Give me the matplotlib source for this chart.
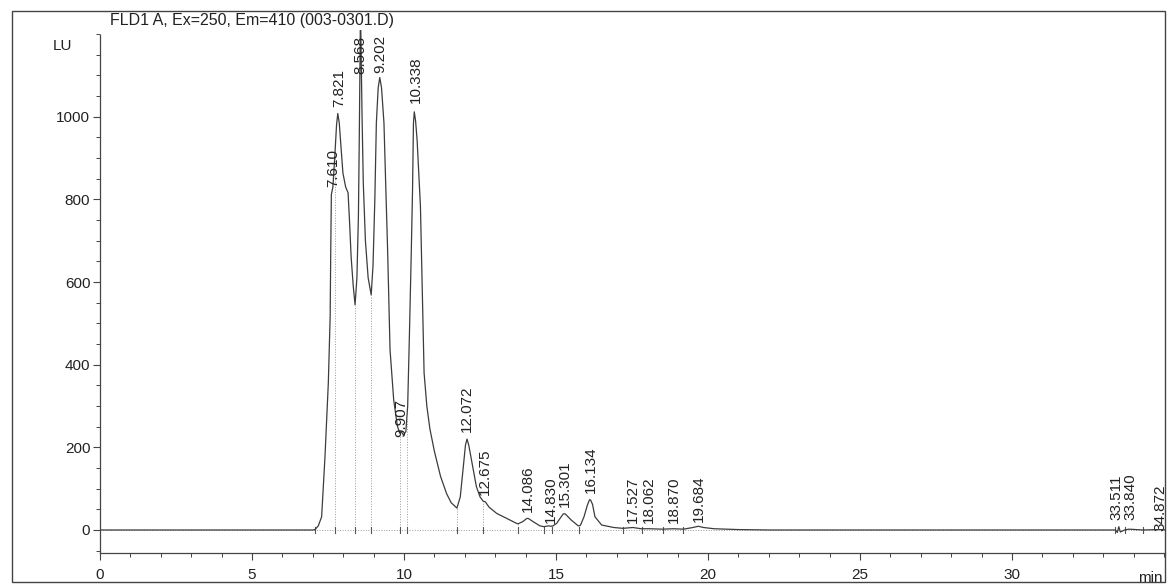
import numpy as np
import matplotlib
matplotlib.use("Agg")
import matplotlib.pyplot as plt
from matplotlib.patches import Rectangle
from matplotlib.ticker import MultipleLocator

plt.rcParams["font.family"] = ["Liberation Sans", "DejaVu Sans"]

# ── data ─────────────────────────────────────────────────────
trace_time = [0.00, 7.00, 7.07, 7.18, 7.29, 7.40, 7.51, 7.57, 7.59, 7.61,
              7.66, 7.72, 7.78, 7.821, 7.87, 7.91, 7.99, 8.08, 8.16, 8.21,
              8.26, 8.33, 8.39, 8.45, 8.50, 8.53, 8.568, 8.62, 8.66, 8.73,
              8.82, 8.92, 8.98, 9.04, 9.09, 9.15, 9.202, 9.26, 9.34, 9.40,
              9.46, 9.54, 9.66, 9.78, 9.86, 9.907, 9.98, 10.06, 10.12, 10.18,
              10.24, 10.28, 10.31, 10.338, 10.38, 10.43, 10.54, 10.60, 10.66, 10.75,
              10.85, 11.00, 11.20, 11.40, 11.55, 11.74, 11.85, 11.95, 12.02,
              12.072, 12.13, 12.26, 12.38, 12.50, 12.60, 12.675, 12.80, 13.05, 13.38,
              13.70, 13.75, 13.90, 14.04, 14.086, 14.25, 14.47, 14.60, 14.75, 14.83,
              14.90, 15.02, 15.15, 15.24, 15.301, 15.50, 15.73, 15.80, 15.92, 16.03,
              16.10, 16.134, 16.20, 16.28, 16.50, 16.90, 17.20, 17.527, 17.80, 18.062,
              18.50, 18.87, 19.20, 19.50, 19.684, 19.85, 20.20, 21.00, 22.00, 33.40,
              33.46, 33.511, 33.56, 33.70, 33.84, 34.30, 34.872, 35.10]
trace_lu = [0, 0, 1, 10, 32, 177, 356, 516, 678, 812,
            830, 900, 980, 1008, 985, 944, 864, 830, 816, 743,
            661, 590, 545, 610, 760, 960, 1260, 1000, 840, 700,
            610, 569, 640, 800, 985, 1070, 1095, 1070, 985, 830,
            678, 436, 315, 252, 234, 238, 230, 238, 300, 480,
            678, 823, 985, 1012, 990, 944, 783, 581, 380, 300,
            245, 190, 130, 88, 66, 53, 80, 153, 205,
            220, 205, 153, 105, 80, 70, 68, 55, 40, 28,
            16, 15, 20, 28, 28, 20, 10, 8, 10, 9,
            10, 16, 30, 39, 39, 24, 10, 11, 32, 60,
            73, 73, 62, 32, 12, 6, 4, 6, 3, 3,
            2, 3, 2, 6, 9, 6, 3, 1, 0, 0,
            -6, 8, -5, 0, 2, 0, 1, 0]

peak_rt = [7.610, 7.821, 8.568, 9.202, 9.907, 10.338, 12.072, 12.675,
           14.086, 14.830, 15.301, 16.134, 17.527, 18.062, 18.870, 19.684,
           33.511, 33.840, 34.872]
peak_label_lu = [816, 1010, 1089, 1092, 212, 1020, 224, 71,
                 30, 4, 42, 76, 3, 3, 3, 6,
                 10, 10, -15]
peak_label_dx = [1, 1, 0, 0, 0, 1, 0, 0,
                 0, 0, 0, 0, 0, 0, 0, 0,
                 -1.5, 1.5, 0]

drop_time = [7.07, 7.73, 8.39, 8.92, 9.86, 10.09, 11.74, 12.60, 13.75,
             14.60, 14.87, 15.76, 17.20, 17.83, 18.52, 19.18, 33.40, 33.70, 34.30]

# ── figure ───────────────────────────────────────────────────
W, H = 1172, 588
fig = plt.figure(figsize=(W / 100, H / 100), dpi=100)
fig.patch.set_facecolor("white")

# outer frame of the printout
fig.patches.append(Rectangle((12 / W, 1 - 582 / H), (1165 - 12) / W, (582 - 11) / H,
                             transform=fig.transFigure, fill=False,
                             edgecolor="#444444", linewidth=1.0))

ax = fig.add_axes([100 / W, 1 - 553 / H, (1165 - 100) / W, (553 - 30) / H])
ax.set_xlim(0, 35.03)
ax.set_ylim(-55.7, 1210)

ax.plot([0, 35.03], [0, 0], color="#999999", linewidth=0.7, linestyle=":")

# drop lines / baseline markers
for t in drop_time:
    top = np.interp(t, trace_time, trace_lu)
    ax.plot([t, t], [0, top], color="#9a9a9a", linewidth=0.7, linestyle=":")
    ax.plot([t, t], [-8, 8], color="#555555", linewidth=0.8)

ax.plot(trace_time, trace_lu, color="#3c3c3c", linewidth=0.9)

for rt, lu, dx in zip(peak_rt, peak_label_lu, peak_label_dx):
    ax.annotate(f"{rt:.3f}", xy=(rt, lu), xytext=(dx, 4), textcoords="offset points",
                rotation=90, ha="center", va="bottom", fontsize=11, color="#222222",
                annotation_clip=False)

for side in ["top", "right"]:
    ax.spines[side].set_visible(False)
ax.spines["left"].set_bounds(-55.7, 1198)
for side in ["left", "bottom"]:
    ax.spines[side].set_color("#444444")
    ax.spines[side].set_linewidth(0.9)

ax.xaxis.set_minor_locator(MultipleLocator(1))
ax.yaxis.set_minor_locator(MultipleLocator(50))
ax.set_xticks([0, 5, 10, 15, 20, 25, 30])
ax.set_yticks([0, 200, 400, 600, 800, 1000])
ax.tick_params(which="major", length=5, width=0.8, color="#444444",
               labelsize=11, labelcolor="#222222")
ax.tick_params(which="minor", length=3, width=0.7, color="#444444")
ax.tick_params(axis="x", which="major", pad=6)
ax.tick_params(axis="y", which="major", pad=2)

fig.text(110 / W, 1 - 20 / H, "FLD1 A, Ex=250, Em=410 (003-0301.D)",
         ha="left", va="center", fontsize=11.5, color="#222222")
fig.text(62 / W, 1 - 46 / H, "LU", ha="center", va="center", fontsize=11, color="#222222")
fig.text(1163 / W, 1 - 578 / H, "min", ha="right", va="center", fontsize=11, color="#222222")

fig.savefig("out.png", dpi=100)
